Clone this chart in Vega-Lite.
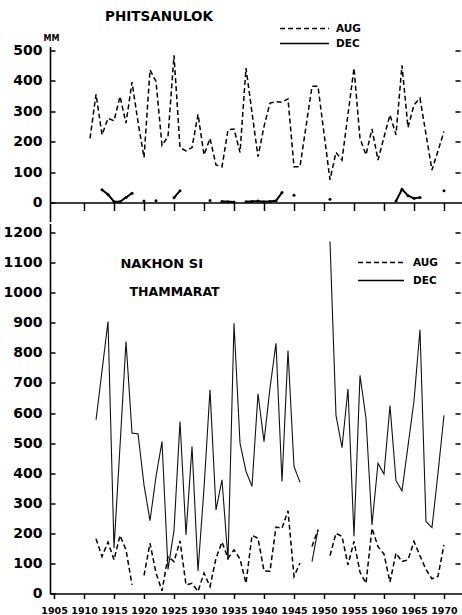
{
  "$schema": "https://vega.github.io/schema/vega-lite/v6.json",
  "padding": {"left": 3, "top": 9.5, "right": 0, "bottom": 0},
  "spacing": 2,
  "config": {
    "view": {"stroke": null},
    "font": "DejaVu Sans",
    "axis": {
      "domainColor": "black",
      "tickColor": "black",
      "labelColor": "black",
      "titleColor": "black",
      "grid": false,
      "domainWidth": 1.6,
      "tickWidth": 1.5
    }
  },
  "datasets": {
    "phitsanulok": [
      {"year": 1911, "month": "AUG", "mm": 211}, {"year": 1912, "month": "AUG", "mm": 356},
      {"year": 1913, "month": "AUG", "mm": 223}, {"year": 1914, "month": "AUG", "mm": 277},
      {"year": 1915, "month": "AUG", "mm": 269}, {"year": 1916, "month": "AUG", "mm": 349},
      {"year": 1917, "month": "AUG", "mm": 261}, {"year": 1918, "month": "AUG", "mm": 396},
      {"year": 1919, "month": "AUG", "mm": 265}, {"year": 1920, "month": "AUG", "mm": 148},
      {"year": 1921, "month": "AUG", "mm": 436}, {"year": 1922, "month": "AUG", "mm": 398},
      {"year": 1923, "month": "AUG", "mm": 188}, {"year": 1924, "month": "AUG", "mm": 217},
      {"year": 1925, "month": "AUG", "mm": 484}, {"year": 1926, "month": "AUG", "mm": 181},
      {"year": 1927, "month": "AUG", "mm": 170}, {"year": 1928, "month": "AUG", "mm": 181},
      {"year": 1929, "month": "AUG", "mm": 290}, {"year": 1930, "month": "AUG", "mm": 157},
      {"year": 1931, "month": "AUG", "mm": 211}, {"year": 1932, "month": "AUG", "mm": 124},
      {"year": 1933, "month": "AUG", "mm": 118}, {"year": 1934, "month": "AUG", "mm": 239},
      {"year": 1935, "month": "AUG", "mm": 242}, {"year": 1936, "month": "AUG", "mm": 165},
      {"year": 1937, "month": "AUG", "mm": 442}, {"year": 1938, "month": "AUG", "mm": 296},
      {"year": 1939, "month": "AUG", "mm": 151}, {"year": 1940, "month": "AUG", "mm": 250},
      {"year": 1941, "month": "AUG", "mm": 327}, {"year": 1942, "month": "AUG", "mm": 332},
      {"year": 1943, "month": "AUG", "mm": 330}, {"year": 1944, "month": "AUG", "mm": 341},
      {"year": 1945, "month": "AUG", "mm": 118}, {"year": 1946, "month": "AUG", "mm": 118},
      {"year": 1947, "month": "AUG", "mm": 250}, {"year": 1948, "month": "AUG", "mm": 382},
      {"year": 1949, "month": "AUG", "mm": 382}, {"year": 1950, "month": "AUG", "mm": 228},
      {"year": 1951, "month": "AUG", "mm": 75}, {"year": 1952, "month": "AUG", "mm": 165},
      {"year": 1953, "month": "AUG", "mm": 140}, {"year": 1954, "month": "AUG", "mm": 290},
      {"year": 1955, "month": "AUG", "mm": 442}, {"year": 1956, "month": "AUG", "mm": 211},
      {"year": 1957, "month": "AUG", "mm": 157}, {"year": 1958, "month": "AUG", "mm": 242},
      {"year": 1959, "month": "AUG", "mm": 140}, {"year": 1960, "month": "AUG", "mm": 215},
      {"year": 1961, "month": "AUG", "mm": 288}, {"year": 1962, "month": "AUG", "mm": 223},
      {"year": 1963, "month": "AUG", "mm": 451}, {"year": 1964, "month": "AUG", "mm": 247},
      {"year": 1965, "month": "AUG", "mm": 321}, {"year": 1966, "month": "AUG", "mm": 343},
      {"year": 1967, "month": "AUG", "mm": 225}, {"year": 1968, "month": "AUG", "mm": 107},
      {"year": 1969, "month": "AUG", "mm": 170}, {"year": 1970, "month": "AUG", "mm": 234},
      {"year": 1913, "month": "DEC", "mm": 42}, {"year": 1914, "month": "DEC", "mm": 27},
      {"year": 1915, "month": "DEC", "mm": 3}, {"year": 1916, "month": "DEC", "mm": 3},
      {"year": 1917, "month": "DEC", "mm": 17}, {"year": 1918, "month": "DEC", "mm": 31},
      {"year": 1919, "month": "DEC", "mm": null}, {"year": 1920, "month": "DEC", "mm": 5},
      {"year": 1921, "month": "DEC", "mm": null}, {"year": 1922, "month": "DEC", "mm": 6},
      {"year": 1923, "month": "DEC", "mm": null}, {"year": 1925, "month": "DEC", "mm": 16},
      {"year": 1926, "month": "DEC", "mm": 39}, {"year": 1927, "month": "DEC", "mm": null},
      {"year": 1931, "month": "DEC", "mm": 7}, {"year": 1932, "month": "DEC", "mm": null},
      {"year": 1933, "month": "DEC", "mm": 4}, {"year": 1934, "month": "DEC", "mm": 3},
      {"year": 1935, "month": "DEC", "mm": 2}, {"year": 1936, "month": "DEC", "mm": null},
      {"year": 1937, "month": "DEC", "mm": 3}, {"year": 1938, "month": "DEC", "mm": 4},
      {"year": 1939, "month": "DEC", "mm": 5}, {"year": 1940, "month": "DEC", "mm": 3},
      {"year": 1941, "month": "DEC", "mm": 4}, {"year": 1942, "month": "DEC", "mm": 6},
      {"year": 1943, "month": "DEC", "mm": 33}, {"year": 1944, "month": "DEC", "mm": null},
      {"year": 1945, "month": "DEC", "mm": 24}, {"year": 1946, "month": "DEC", "mm": null},
      {"year": 1951, "month": "DEC", "mm": 11}, {"year": 1952, "month": "DEC", "mm": null},
      {"year": 1962, "month": "DEC", "mm": 5}, {"year": 1963, "month": "DEC", "mm": 44},
      {"year": 1964, "month": "DEC", "mm": 23}, {"year": 1965, "month": "DEC", "mm": 14},
      {"year": 1966, "month": "DEC", "mm": 17}, {"year": 1967, "month": "DEC", "mm": null},
      {"year": 1970, "month": "DEC", "mm": 39}
    ],
    "nakhon": [
      {"year": 1912, "month": "AUG", "mm": 182}, {"year": 1913, "month": "AUG", "mm": 123},
      {"year": 1914, "month": "AUG", "mm": 171}, {"year": 1915, "month": "AUG", "mm": 112},
      {"year": 1916, "month": "AUG", "mm": 193}, {"year": 1917, "month": "AUG", "mm": 145},
      {"year": 1918, "month": "AUG", "mm": 29}, {"year": 1919, "month": "AUG", "mm": null},
      {"year": 1920, "month": "AUG", "mm": 60}, {"year": 1921, "month": "AUG", "mm": 167},
      {"year": 1922, "month": "AUG", "mm": 68}, {"year": 1923, "month": "AUG", "mm": 9},
      {"year": 1924, "month": "AUG", "mm": 123}, {"year": 1925, "month": "AUG", "mm": 106},
      {"year": 1926, "month": "AUG", "mm": 175}, {"year": 1927, "month": "AUG", "mm": 29},
      {"year": 1928, "month": "AUG", "mm": 34}, {"year": 1929, "month": "AUG", "mm": 7},
      {"year": 1930, "month": "AUG", "mm": 68}, {"year": 1931, "month": "AUG", "mm": 23},
      {"year": 1932, "month": "AUG", "mm": 117}, {"year": 1933, "month": "AUG", "mm": 171},
      {"year": 1934, "month": "AUG", "mm": 117}, {"year": 1935, "month": "AUG", "mm": 145},
      {"year": 1936, "month": "AUG", "mm": 115}, {"year": 1937, "month": "AUG", "mm": 34},
      {"year": 1938, "month": "AUG", "mm": 193}, {"year": 1939, "month": "AUG", "mm": 184},
      {"year": 1940, "month": "AUG", "mm": 75}, {"year": 1941, "month": "AUG", "mm": 74},
      {"year": 1942, "month": "AUG", "mm": 221}, {"year": 1943, "month": "AUG", "mm": 217},
      {"year": 1944, "month": "AUG", "mm": 275}, {"year": 1945, "month": "AUG", "mm": 57},
      {"year": 1946, "month": "AUG", "mm": 101}, {"year": 1947, "month": "AUG", "mm": null},
      {"year": 1948, "month": "AUG", "mm": 156}, {"year": 1949, "month": "AUG", "mm": 212},
      {"year": 1950, "month": "AUG", "mm": null}, {"year": 1951, "month": "AUG", "mm": 126},
      {"year": 1952, "month": "AUG", "mm": 200}, {"year": 1953, "month": "AUG", "mm": 190},
      {"year": 1954, "month": "AUG", "mm": 95}, {"year": 1955, "month": "AUG", "mm": 173},
      {"year": 1956, "month": "AUG", "mm": 71}, {"year": 1957, "month": "AUG", "mm": 34},
      {"year": 1958, "month": "AUG", "mm": 217}, {"year": 1959, "month": "AUG", "mm": 156},
      {"year": 1960, "month": "AUG", "mm": 131}, {"year": 1961, "month": "AUG", "mm": 38},
      {"year": 1962, "month": "AUG", "mm": 134}, {"year": 1963, "month": "AUG", "mm": 106},
      {"year": 1964, "month": "AUG", "mm": 112}, {"year": 1965, "month": "AUG", "mm": 173},
      {"year": 1966, "month": "AUG", "mm": 125}, {"year": 1967, "month": "AUG", "mm": 80},
      {"year": 1968, "month": "AUG", "mm": 49}, {"year": 1969, "month": "AUG", "mm": 57},
      {"year": 1970, "month": "AUG", "mm": 162},
      {"year": 1912, "month": "DEC", "mm": 577}, {"year": 1913, "month": "DEC", "mm": 740},
      {"year": 1914, "month": "DEC", "mm": 904}, {"year": 1915, "month": "DEC", "mm": 151},
      {"year": 1916, "month": "DEC", "mm": 490}, {"year": 1917, "month": "DEC", "mm": 838},
      {"year": 1918, "month": "DEC", "mm": 533}, {"year": 1919, "month": "DEC", "mm": 531},
      {"year": 1920, "month": "DEC", "mm": 361}, {"year": 1921, "month": "DEC", "mm": 242},
      {"year": 1922, "month": "DEC", "mm": 389}, {"year": 1923, "month": "DEC", "mm": 505},
      {"year": 1924, "month": "DEC", "mm": 80}, {"year": 1925, "month": "DEC", "mm": 210},
      {"year": 1926, "month": "DEC", "mm": 572}, {"year": 1927, "month": "DEC", "mm": 195},
      {"year": 1928, "month": "DEC", "mm": 489}, {"year": 1929, "month": "DEC", "mm": 75},
      {"year": 1930, "month": "DEC", "mm": 350}, {"year": 1931, "month": "DEC", "mm": 677},
      {"year": 1932, "month": "DEC", "mm": 278}, {"year": 1933, "month": "DEC", "mm": 378},
      {"year": 1934, "month": "DEC", "mm": 112}, {"year": 1935, "month": "DEC", "mm": 898},
      {"year": 1936, "month": "DEC", "mm": 500}, {"year": 1937, "month": "DEC", "mm": 406},
      {"year": 1938, "month": "DEC", "mm": 356}, {"year": 1939, "month": "DEC", "mm": 664},
      {"year": 1940, "month": "DEC", "mm": 505}, {"year": 1941, "month": "DEC", "mm": 683},
      {"year": 1942, "month": "DEC", "mm": 832}, {"year": 1943, "month": "DEC", "mm": 372},
      {"year": 1944, "month": "DEC", "mm": 807}, {"year": 1945, "month": "DEC", "mm": 422},
      {"year": 1946, "month": "DEC", "mm": 370}, {"year": 1947, "month": "DEC", "mm": null},
      {"year": 1948, "month": "DEC", "mm": 106}, {"year": 1949, "month": "DEC", "mm": 212},
      {"year": 1950, "month": "DEC", "mm": null}, {"year": 1951, "month": "DEC", "mm": 1170},
      {"year": 1952, "month": "DEC", "mm": 592}, {"year": 1953, "month": "DEC", "mm": 485},
      {"year": 1954, "month": "DEC", "mm": 680}, {"year": 1955, "month": "DEC", "mm": 190},
      {"year": 1956, "month": "DEC", "mm": 725}, {"year": 1957, "month": "DEC", "mm": 583},
      {"year": 1958, "month": "DEC", "mm": 228}, {"year": 1959, "month": "DEC", "mm": 433},
      {"year": 1960, "month": "DEC", "mm": 397}, {"year": 1961, "month": "DEC", "mm": 625},
      {"year": 1962, "month": "DEC", "mm": 375}, {"year": 1963, "month": "DEC", "mm": 341},
      {"year": 1964, "month": "DEC", "mm": 490}, {"year": 1965, "month": "DEC", "mm": 640},
      {"year": 1966, "month": "DEC", "mm": 877}, {"year": 1967, "month": "DEC", "mm": 239},
      {"year": 1968, "month": "DEC", "mm": 219}, {"year": 1969, "month": "DEC", "mm": 400},
      {"year": 1970, "month": "DEC", "mm": 592}
    ]
  },
  "resolve": {
    "scale": {"x": "independent", "y": "independent", "strokeDash": "independent"},
    "legend": {"strokeDash": "independent"}
  },
  "vconcat": [
    {
      "width": 413,
      "height": 175,
      "data": {"name": "phitsanulok"},
      "resolve": {"axis": {"x": "independent", "y": "independent"}},
      "layer": [
        {
          "transform": [{"filter": "datum.month === 'DEC'"}],
          "mark": {"type": "line", "color": "black", "strokeWidth": 2},
          "encoding": {
            "x": {
              "field": "year", "type": "quantitative",
              "scale": {"domain": [1904.33, 1973.17], "nice": false, "zero": false},
              "axis": {
                "orient": "bottom", "offset": -19, "labels": false, "title": null,
                "values": [1910, 1915, 1920, 1925, 1930, 1935, 1940, 1945, 1950, 1955, 1960, 1965, 1970],
                "tickSize": 8
              }
            },
            "y": {
              "field": "mm", "type": "quantitative",
              "scale": {"domain": [-62, 513], "nice": false, "zero": false},
              "axis": {
                "orient": "left", "values": [0, 100, 200, 300, 400, 500], "format": "d",
                "tickSize": -5, "labelPadding": 13,
                "labelFont": "DejaVu Sans", "labelFontSize": 14, "labelFontWeight": "bold",
                "title": "MM", "titleAngle": 0, "titleX": -7, "titleY": -8,
                "titleAlign": "left", "titleBaseline": "middle",
                "titleFont": "DejaVu Sans", "titleFontSize": 8, "titleFontWeight": "bold"
              }
            },
            "strokeDash": {
              "field": "month", "type": "nominal",
              "scale": {"domain": ["AUG", "DEC"], "range": [[5, 3], [1, 0]]},
              "legend": {
                "orient": "none", "legendX": 229, "legendY": -24, "title": null,
                "symbolType": "stroke", "symbolSize": 2401, "symbolStrokeWidth": 1.4,
                "symbolStrokeColor": "black", "padding": 0,
                "clipHeight": 12, "rowPadding": 3,
                "labelFont": "DejaVu Sans", "labelFontSize": 10.5, "labelFontWeight": "bold",
                "labelColor": "black", "labelOffset": 6
              }
            }
          }
        },
        {
          "transform": [{"filter": "datum.month === 'AUG'"}],
          "mark": {"type": "line", "color": "black", "strokeWidth": 1.5},
          "encoding": {
            "x": {
              "field": "year", "type": "quantitative",
              "scale": {"domain": [1904.33, 1973.17], "nice": false, "zero": false},
              "axis": null
            },
            "y": {
              "field": "mm", "type": "quantitative",
              "scale": {"domain": [-62, 513], "nice": false, "zero": false},
              "axis": {
                "orient": "right", "values": [100, 200, 300, 400, 500],
                "labels": false, "domain": false, "title": null,
                "tickSize": 5, "offset": -8
              }
            },
            "strokeDash": {
              "field": "month", "type": "nominal",
              "scale": {"domain": ["AUG", "DEC"], "range": [[5, 3], [1, 0]]}
            }
          }
        },
        {
          "transform": [{"filter": "datum.month === 'DEC' && datum.mm != null"}],
          "mark": {"type": "circle", "color": "black", "size": 9, "opacity": 1},
          "encoding": {
            "x": {
              "field": "year", "type": "quantitative",
              "scale": {"domain": [1904.33, 1973.17], "nice": false, "zero": false},
              "axis": null
            },
            "y": {
              "field": "mm", "type": "quantitative",
              "scale": {"domain": [-62, 513], "nice": false, "zero": false},
              "axis": null
            }
          }
        },
        {
          "data": {"values": [{}]},
          "mark": {
            "type": "text", "text": "PHITSANULOK", "font": "DejaVu Sans",
            "fontSize": 13.5, "fontWeight": "bold", "color": "black",
            "align": "center", "baseline": "middle"
          },
          "encoding": {
            "x": {"datum": 1922.5, "type": "quantitative",
                  "scale": {"domain": [1904.33, 1973.17], "nice": false, "zero": false}, "axis": null},
            "y": {"datum": 610, "type": "quantitative",
                  "scale": {"domain": [-62, 513], "nice": false, "zero": false}, "axis": null}
          }
        }
      ]
    },
    {
      "width": 413,
      "height": 370,
      "data": {"name": "nakhon"},
      "resolve": {"axis": {"x": "independent", "y": "independent"}},
      "layer": [
        {
          "transform": [{"filter": "datum.month === 'DEC'"}],
          "mark": {"type": "line", "color": "#111111", "strokeWidth": 1.1},
          "encoding": {
            "x": {
              "field": "year", "type": "quantitative",
              "scale": {"domain": [1904.33, 1973.17], "nice": false, "zero": false},
              "axis": {
                "orient": "bottom", "title": null, "format": "d",
                "values": [1905, 1910, 1915, 1920, 1925, 1930, 1935, 1940, 1945, 1950, 1955, 1960, 1965, 1970],
                "tickSize": 5, "labelPadding": 7,
                "labelFont": "DejaVu Sans", "labelFontSize": 9.5, "labelFontWeight": "bold"
              }
            },
            "y": {
              "field": "mm", "type": "quantitative",
              "scale": {"domain": [0, 1230], "nice": false, "zero": false},
              "axis": {
                "orient": "left", "title": null, "format": "d",
                "values": [0, 100, 200, 300, 400, 500, 600, 700, 800, 900, 1000, 1100, 1200],
                "tickSize": -5, "labelPadding": 13,
                "labelFont": "DejaVu Sans", "labelFontSize": 14, "labelFontWeight": "bold"
              }
            },
            "strokeDash": {
              "field": "month", "type": "nominal",
              "scale": {"domain": ["AUG", "DEC"], "range": [[5, 3], [1, 0]]},
              "legend": {
                "orient": "none", "legendX": 307, "legendY": 33, "title": null,
                "symbolType": "stroke", "symbolSize": 2116, "symbolStrokeWidth": 1.4,
                "symbolStrokeColor": "black", "padding": 0,
                "clipHeight": 12, "rowPadding": 6,
                "labelFont": "DejaVu Sans", "labelFontSize": 10.5, "labelFontWeight": "bold",
                "labelColor": "black", "labelOffset": 8
              }
            }
          }
        },
        {
          "transform": [{"filter": "datum.month === 'AUG'"}],
          "mark": {"type": "line", "color": "black", "strokeWidth": 1.5},
          "encoding": {
            "x": {
              "field": "year", "type": "quantitative",
              "scale": {"domain": [1904.33, 1973.17], "nice": false, "zero": false},
              "axis": null
            },
            "y": {
              "field": "mm", "type": "quantitative",
              "scale": {"domain": [0, 1230], "nice": false, "zero": false},
              "axis": {
                "orient": "right", "labels": false, "domain": false, "title": null,
                "values": [100, 200, 300, 400, 500, 600, 700, 800, 900, 1000, 1100, 1200],
                "tickSize": 5, "offset": -8
              }
            },
            "strokeDash": {
              "field": "month", "type": "nominal",
              "scale": {"domain": ["AUG", "DEC"], "range": [[5, 3], [1, 0]]}
            }
          }
        },
        {
          "data": {"values": [{}]},
          "mark": {
            "type": "text", "text": "NAKHON   SI", "font": "DejaVu Sans",
            "fontSize": 13, "fontWeight": "bold", "color": "black",
            "align": "center", "baseline": "middle"
          },
          "encoding": {
            "x": {"datum": 1922.95, "type": "quantitative",
                  "scale": {"domain": [1904.33, 1973.17], "nice": false, "zero": false}, "axis": null},
            "y": {"datum": 1097, "type": "quantitative",
                  "scale": {"domain": [0, 1230], "nice": false, "zero": false}, "axis": null}
          }
        },
        {
          "data": {"values": [{}]},
          "mark": {
            "type": "text", "text": "THAMMARAT", "font": "DejaVu Sans",
            "fontSize": 12.5, "fontWeight": "bold", "color": "black",
            "align": "center", "baseline": "middle"
          },
          "encoding": {
            "x": {"datum": 1925.1, "type": "quantitative",
                  "scale": {"domain": [1904.33, 1973.17], "nice": false, "zero": false}, "axis": null},
            "y": {"datum": 1001, "type": "quantitative",
                  "scale": {"domain": [0, 1230], "nice": false, "zero": false}, "axis": null}
          }
        }
      ]
    }
  ]
}
